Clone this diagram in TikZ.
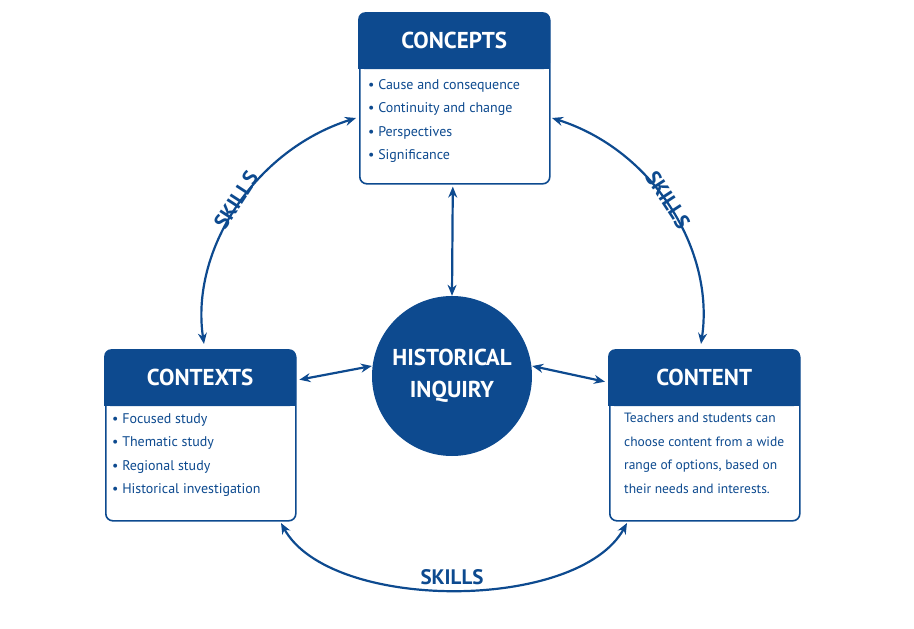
\documentclass[tikz,border=0pt]{standalone}
\usepackage{fontspec}
\setmainfont{PT Sans}
\usetikzlibrary{arrows.meta,positioning,calc}
\definecolor{hiblue}{HTML}{0D4A8F}
\begin{document}
\begin{tikzpicture}[x=1pt,y=-1pt, >={Stealth[length=11pt,width=9pt]},
    every node/.style={inner sep=0pt},
    box/.style={draw=hiblue, line width=1.6pt, rounded corners=7pt, minimum width=190pt,
      minimum height=170pt, fill=white, anchor=north west},
    head/.style={fill=hiblue, text=white, rounded corners=7pt, minimum width=192pt,
      minimum height=57pt, anchor=north west, font=\fontsize{23}{23}\selectfont\bfseries},
    item/.style={text=hiblue, font=\fontsize{14}{23.5}\selectfont, align=left, anchor=north west},
    link/.style={<->, draw=hiblue, line width=2.2pt},
    skill/.style={text=hiblue, font=\fontsize{21}{21}\selectfont\bfseries}
    ]
\useasboundingbox (0,0) rectangle (914,629);
% concepts
\node[box] (conB) at (359,13) {};
\node[head] (con) at (358,12) {CONCEPTS};
\fill[hiblue] (358,58) rectangle (550,69);
\node[item] (conT) at (368,79)
  {• Cause and consequence\\• Continuity and change\\• Perspectives\\• Significance};
% contexts
\node[box] (ctxB) at (105,350) {};
\node[head] (ctx) at (104,349) {CONTEXTS};
\fill[hiblue] (104,395) rectangle (296,406);
\node[item] (ctxT) at (112,413)
  {• Focused study\\• Thematic study\\• Regional study\\• Historical investigation};
% content
\node[box] (cntB) at (609,350) {};
\node[head] (cnt) at (608,349) {CONTENT};
\fill[hiblue] (608,395) rectangle (800,406);
\node[item, font=\fontsize{13.5}{23.5}\selectfont] (cntT) at (624,413)
  {Teachers and students can\\choose content from a wide\\range of options, based on\\their needs and interests.};

% centre
\node[circle, fill=hiblue, minimum size=160pt, text=white, align=center,
  font=\fontsize{23}{32}\selectfont\bfseries] (hi) at (452,376) {HISTORICAL\\INQUIRY};

% links
\draw[link] ($(conB.south)+(-2,2)$) -- (hi.north);
\draw[link] ($(ctx.east)+(3,2)$) -- (hi.west |- 0,366);
\draw[link] (hi.east |- 0,366) -- ($(cnt.west)+(-3,4)$);
\coordinate (l1) at (204,344);
\coordinate (l2) at (356,118);
\coordinate (r1) at (552,118);
\coordinate (r2) at (701,344);
\coordinate (b1) at (281,523);
\coordinate (b2) at (627,523);
\draw[link] (l1) .. controls (190,250) and (255,150) .. (l2);
\draw[link] (r1) .. controls (653,150) and (715,250) .. (r2);
\draw[link] (b1) .. controls (330,612) and (578,612) .. (b2);
\node[skill, rotate=57] (s1) at (236,200) {SKILLS};
\node[skill, rotate=-57] (s2) at (668,200) {SKILLS};
\node[skill] (s3) at (452,577) {SKILLS};
\end{tikzpicture}
\end{document}
